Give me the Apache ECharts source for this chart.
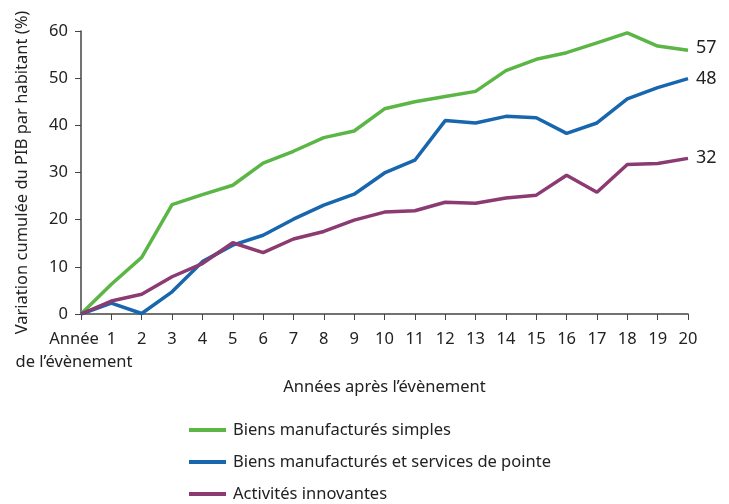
<!DOCTYPE html>
<html><head><meta charset="utf-8">
<script src="https://cdn.jsdelivr.net/npm/echarts@6/dist/echarts.min.js"></script>
<style>html,body{margin:0;padding:0;background:#fff}#c{width:729px;height:504px}</style>
</head><body><div id="c"></div>
<script>
var categories = ["Année\nde l’évènement","1","2","3","4","5","6","7","8","9","10","11","12","13","14","15","16","17","18","19","20"];
var simples = [0,6.3,12.0,23.2,25.3,27.3,32.0,34.5,37.4,38.8,43.5,45.0,46.1,47.2,51.6,54.0,55.4,57.5,59.6,56.8,55.9];
var pointe = [0,2.3,0.1,4.7,11.1,14.6,16.7,20.1,23.1,25.4,29.9,32.6,41.0,40.5,41.9,41.6,38.3,40.5,45.6,48.0,49.9];
var innovantes = [0,2.75,4.2,7.9,10.7,15.1,13.0,15.9,17.5,19.9,21.6,21.9,23.7,23.5,24.6,25.2,29.4,25.8,31.7,31.9,33.0];
var seriesNames = ["Biens manufacturés simples","Biens manufacturés et services de pointe","Activités innovantes"];
var endLabels = ["57","48","32"];
var yTicks = [0,10,20,30,40,50,60];

var FONT = "'Noto Sans', Lato, sans-serif";
var FS = 16.5;
var colors = ["#5bb646","#1766ae","#8b3a72"];
var chart = echarts.init(document.getElementById('c'));
function mk(i, data){
  return {
    name: seriesNames[i], type:'line', data:data, symbol:'none',
    lineStyle:{width:3.5,color:colors[i]}, itemStyle:{color:colors[i]},
    endLabel:{show:true, formatter:endLabels[i], color:'#222', fontSize:18, fontFamily:FONT, distance:8, offset: i===0?[0,-2]:[0,0]}
  };
}
chart.setOption({
  animation:false,
  textStyle:{fontFamily:FONT},
  grid:{left:81,right:41,top:31,bottom:190,containLabel:false},
  legend:{
    orient:'vertical', left:189, top:421, height:83, padding:0, itemWidth:37, itemHeight:4, itemGap:14,
    icon:'rect', data:seriesNames,
    textStyle:{fontSize:FS,color:'#222',fontFamily:FONT,lineHeight:18,padding:[0,0,0,2]}
  },
  xAxis:{
    type:'category', data:categories, boundaryGap:false,
    name:'Années après l’évènement', nameLocation:'middle', nameGap:62,
    nameTextStyle:{fontSize:FS,color:'#222',fontFamily:FONT},
    axisLine:{lineStyle:{color:'#444',width:1.5}},
    axisTick:{show:true,length:6,lineStyle:{color:'#444'},alignWithLabel:true},
    axisLabel:{
      interval:0, fontSize:FS, color:'#222', margin:14, fontFamily:FONT, lineHeight:23,
      formatter:function(v,i){ return i===0 ? v.split('\n').map(function(s){return '{f|'+s+'}';}).join('\n') : v; },
      rich:{f:{fontSize:FS,color:'#222',fontFamily:FONT,padding:[0,14,0,0],lineHeight:23}}
    },
    splitLine:{show:false}
  },
  yAxis:{
    type:'value', min:0, max:60, interval:10,
    name:'Variation cumulée du PIB par habitant (%)', nameLocation:'middle', nameGap:50, nameRotate:90,
    nameTextStyle:{fontSize:FS,color:'#222',fontFamily:FONT},
    axisLine:{show:true,lineStyle:{color:'#444',width:1.5}},
    axisTick:{show:true,length:6,lineStyle:{color:'#444'}},
    axisLabel:{fontSize:FS,color:'#222',margin:13,fontFamily:FONT,
      formatter:function(v){ return yTicks.indexOf(v)>=0 ? String(v) : ''; }},
    splitLine:{show:false}
  },
  series:[mk(0,simples),mk(1,pointe),mk(2,innovantes)]
});
</script></body></html>
